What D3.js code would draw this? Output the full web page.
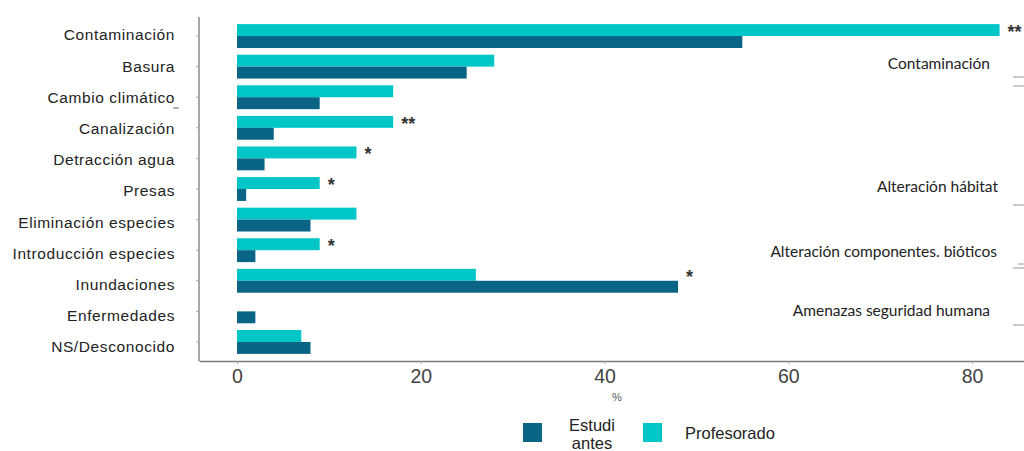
<!DOCTYPE html>
<html><head><meta charset="utf-8">
<script src="https://cdn.jsdelivr.net/npm/d3@7"></script>
<style>body{margin:0;background:#fff;}svg{display:block;}</style>
</head><body>
<svg id="c" width="1024" height="451"></svg>
<script>
const categories = ["Contaminación","Basura","Cambio climático","Canalización","Detracción agua","Presas","Eliminación especies","Introducción especies","Inundaciones","Enfermedades","NS/Desconocido"];
const profesorado = [83,28,17,17,13,9,13,9,26,0,7];
const estudiantes = [55,25,9,4,3,1,8,2,48,2,8];
const significance = ["**","","","**","*","*","","*","*","",""];
const xTicks = [0,20,40,60,80];
const groupLabels = ["Contaminación","Alteración hábitat","Alteración componentes. bióticos","Amenazas seguridad humana"];
const groupLabelY = [64,187,252,311];
const groupLabelRight = [990,998,997,990];
const series = ["Profesorado","Estudiantes"];
const legendLabels = [["Estudi","antes"],["Profesorado"]];

const colors = {Profesorado:"#00c6c8", Estudiantes:"#0a6485"};
const svg = d3.select("#c");
const x = d3.scaleLinear().domain([-4.136,85.66]).range([199,1024]);
const y = d3.scaleBand().domain(categories).range([18,360]).paddingInner(0.22).paddingOuter(0.2);
const ys = d3.scaleBand().domain(series).range([0,y.bandwidth()]);
const yLab = d3.scalePoint().domain(categories).range([35,347]);

// bars
const g = svg.append("g");
categories.forEach((c,i)=>{
  const vals = {Profesorado:profesorado[i], Estudiantes:estudiantes[i]};
  series.forEach(s=>{
    if(vals[s]<=0) return;
    g.append("rect").attr("x",x(0)).attr("y",y(c)+ys(s))
      .attr("width",x(vals[s])-x(0)).attr("height",ys.bandwidth())
      .attr("fill",colors[s]);
  });
  if(significance[i]){
    const v = Math.max(vals.Profesorado, vals.Estudiantes);
    g.append("text").attr("x",x(v)+8).attr("y",y(c)+ys("Profesorado")+ys.bandwidth()/2+8)
      .attr("font-family","Liberation Sans, Arial, sans-serif").attr("font-size",18).attr("font-weight","bold")
      .attr("fill","#333").text(significance[i]);
  }
});

// left axis
const yAxis = d3.axisLeft(y).tickSize(3).tickFormat("");
const ya = svg.append("g").attr("transform","translate(199,0)").call(yAxis);
ya.select(".domain").attr("d","M0,17V361").attr("stroke","#7a7a7a").attr("stroke-width",1.3);
ya.selectAll(".tick line").attr("stroke","#aaa");
svg.append("g").selectAll("text").data(categories).join("text")
  .attr("x",175).attr("y",d=>yLab(d)).attr("dy","0.35em").attr("text-anchor","end")
  .attr("font-family","Liberation Sans, Arial, sans-serif").attr("font-size",15.5).attr("letter-spacing",0.6)
  .attr("fill","#222").text(d=>d);
svg.append("line").attr("x1",173).attr("x2",179).attr("y1",108).attr("y2",108).attr("stroke","#666").attr("stroke-width",1);

// bottom axis
const xAxis = d3.axisBottom(x).tickValues(xTicks).tickSize(3).tickPadding(5).tickSizeOuter(0);
const xa = svg.append("g").attr("transform","translate(0,361)").call(xAxis);
xa.select(".domain").attr("stroke","#7a7a7a").attr("stroke-width",1.3);
xa.selectAll(".tick line").attr("stroke","#aaa");
xa.selectAll(".tick text").attr("font-family","Liberation Sans, sans-serif").attr("font-size",19.5)
  .attr("fill","#444");

svg.append("text").attr("x",617).attr("y",401).attr("text-anchor","middle")
  .attr("font-family","Liberation Sans, sans-serif").attr("font-size",11).attr("fill","#555").text("%");

// group labels on right
groupLabels.forEach((t,i)=>{
  svg.append("text").attr("x",groupLabelRight[i]).attr("y",groupLabelY[i]+5).attr("text-anchor","end")
    .attr("font-family","Lato, Open Sans, sans-serif").attr("font-size",15.5).attr("fill","#222").text(t);
});
// bracket marks on right edge
const brk = [[77,1013],[86,1013],[205,1013],[264,1018],[268,1013],[325,1013]];
brk.forEach(b=>svg.append("line").attr("x1",b[1]).attr("x2",1024).attr("y1",b[0]).attr("y2",b[0]).attr("stroke","#999").attr("stroke-width",1));

// legend
const lg = svg.append("g");
lg.append("rect").attr("x",523).attr("y",423).attr("width",19).attr("height",19).attr("fill",colors.Estudiantes);
lg.append("rect").attr("x",643).attr("y",423).attr("width",19).attr("height",19).attr("fill",colors.Profesorado);
const lf = "Liberation Sans, sans-serif";
lg.append("text").attr("x",592).attr("y",431).attr("text-anchor","middle").attr("font-family",lf).attr("font-size",16.5).attr("fill","#222").text(legendLabels[0][0]);
lg.append("text").attr("x",592).attr("y",449).attr("text-anchor","middle").attr("font-family",lf).attr("font-size",16.5).attr("fill","#222").text(legendLabels[0][1]);
lg.append("text").attr("x",685).attr("y",439).attr("font-family",lf).attr("font-size",16.5).attr("fill","#222").text(legendLabels[1][0]);
</script>
</body></html>
